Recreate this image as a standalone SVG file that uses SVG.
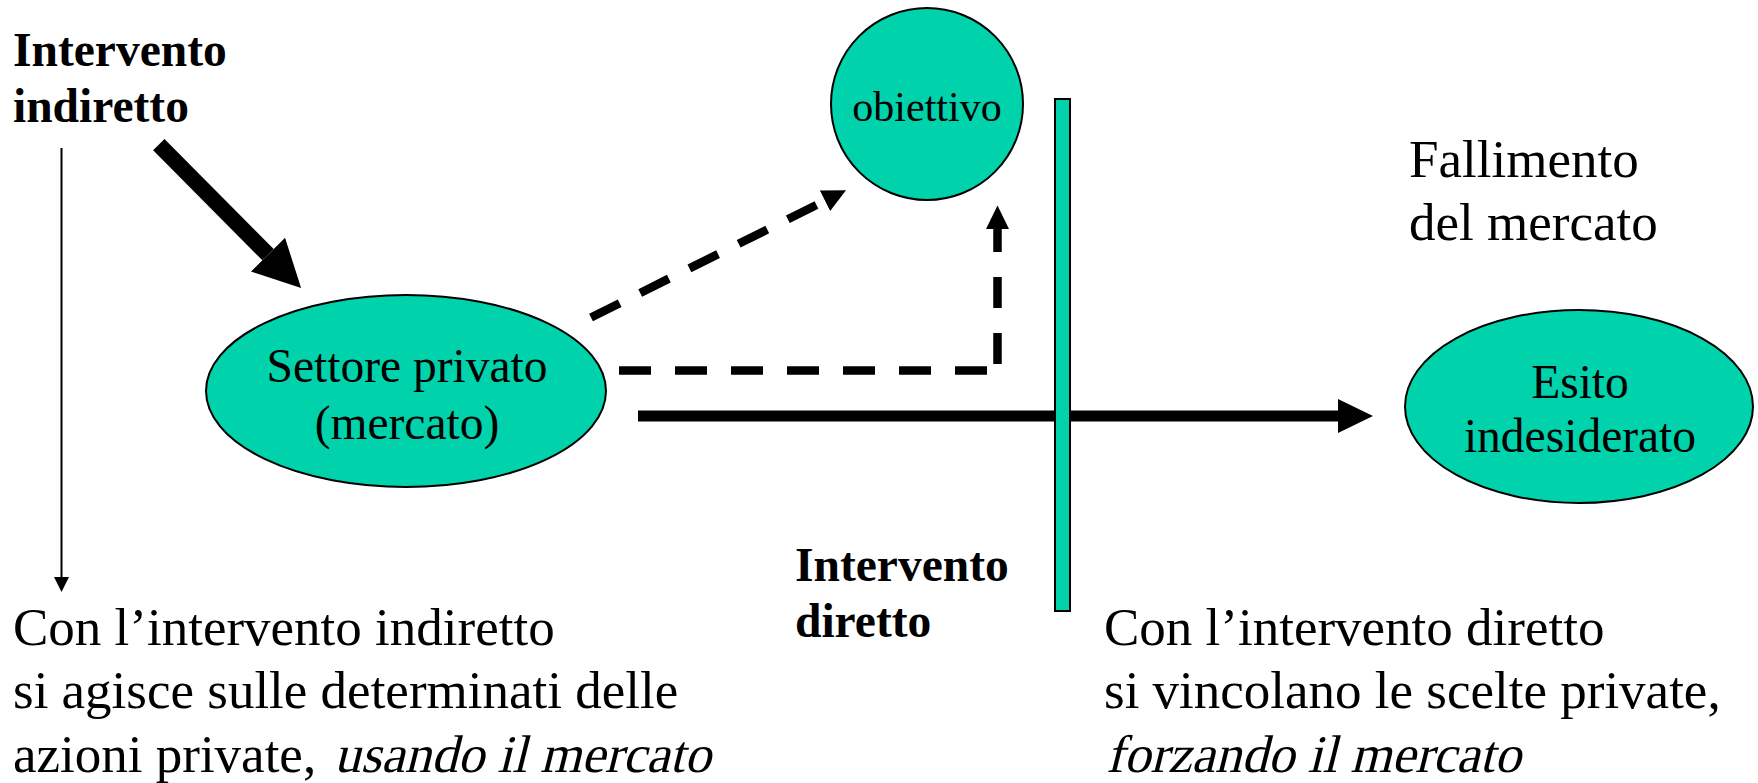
<svg xmlns="http://www.w3.org/2000/svg" width="1758" height="783" viewBox="0 0 1758 783">
<style>
.node{fill:#00D2AB;stroke:#000;stroke-width:2}
.t{font-family:"Liberation Serif","Times New Roman",serif;fill:#000}
.body{font-size:53px}
.lbl{font-size:47.5px}
.b{font-weight:bold;font-size:47.5px}
.dash{fill:none;stroke:#000;stroke-width:8.5}
</style>
<defs>
<marker id="hSmall" markerUnits="userSpaceOnUse" markerWidth="24" markerHeight="23" refX="0" refY="11.5" orient="auto"><path d="M0,0 L23.5,11.5 L0,23 z" fill="#000"/></marker>
<marker id="hMid" markerUnits="userSpaceOnUse" markerWidth="36" markerHeight="34" refX="0" refY="17" orient="auto"><path d="M0,0 L35,17 L0,34 z" fill="#000"/></marker>
<marker id="hBig" markerUnits="userSpaceOnUse" markerWidth="48" markerHeight="48" refX="0" refY="24" orient="auto"><path d="M0,0 L47,24 L0,48 z" fill="#000"/></marker>
<marker id="hThin" markerUnits="userSpaceOnUse" markerWidth="16" markerHeight="15" refX="0" refY="7.5" orient="auto"><path d="M0,0 L15,7.5 L0,15 z" fill="#000"/></marker>
</defs>
<rect width="1758" height="783" fill="#fff"/>
<g id="connectors">
<line x1="61.5" y1="148" x2="61.5" y2="577" stroke="#000" stroke-width="2" marker-end="url(#hThin)"/>
<line x1="158.8" y1="144.7" x2="268" y2="254.7" stroke="#000" stroke-width="16" marker-end="url(#hBig)"/>
<line class="dash" x1="591" y1="317.5" x2="825" y2="200.7" stroke-dasharray="32 23" marker-end="url(#hSmall)"/>
<g id="dash-elbow">
<line class="dash" x1="619" y1="370.5" x2="988" y2="370.5" stroke-dasharray="32 24"/>
<line class="dash" x1="997.5" y1="364" x2="997.5" y2="229" stroke-dasharray="31 25" marker-end="url(#hSmall)"/>
</g>
<line x1="638" y1="416" x2="1338" y2="416" stroke="#000" stroke-width="11" marker-end="url(#hMid)"/>
</g>
<g id="barrier">
<rect x="1055" y="99" width="15" height="512" fill="#00D2AB" stroke="#000" stroke-width="2"/>
</g>
<g id="obiettivo">
<circle class="node" cx="927" cy="104" r="96"/>
<text class="t" x="927" y="120.5" font-size="42" text-anchor="middle">obiettivo</text>
</g>
<g id="settore">
<ellipse class="node" cx="406" cy="391" rx="200" ry="96"/>
<text class="t lbl" x="407" y="381.5" text-anchor="middle">Settore privato</text>
<text class="t lbl" x="407" y="438.5" text-anchor="middle">(mercato)</text>
</g>
<g id="esito">
<ellipse class="node" cx="1579" cy="406.5" rx="174" ry="96.5"/>
<text class="t lbl" x="1580" y="397.5" text-anchor="middle">Esito</text>
<text class="t lbl" x="1580" y="451.5" text-anchor="middle">indesiderato</text>
</g>
<g id="label-indiretto">
<text class="t b" x="13" y="66">Intervento</text>
<text class="t b" x="13" y="122">indiretto</text>
</g>
<g id="label-diretto">
<text class="t b" x="795" y="581">Intervento</text>
<text class="t b" x="795" y="637">diretto</text>
</g>
<g id="label-fallimento">
<text class="t body" x="1409" y="176.5">Fallimento</text>
<text class="t body" x="1409" y="240">del mercato</text>
</g>
<g id="text-indiretto">
<text class="t body" x="13" y="645">Con l’intervento indiretto</text>
<text class="t body" x="13" y="708">si agisce sulle determinati delle</text>
<text class="t body" x="13" y="772">azioni private,</text>
<text class="t body" transform="translate(334,772) skewX(-14)" x="0" y="0">usando il mercato</text>
</g>
<g id="text-diretto">
<text class="t body" x="1104" y="645">Con l’intervento diretto</text>
<text class="t body" x="1104" y="708">si vincolano le scelte private,</text>
<text class="t body" transform="translate(1106,772) skewX(-14)" x="0" y="0">forzando il mercato</text>
</g>
</svg>
